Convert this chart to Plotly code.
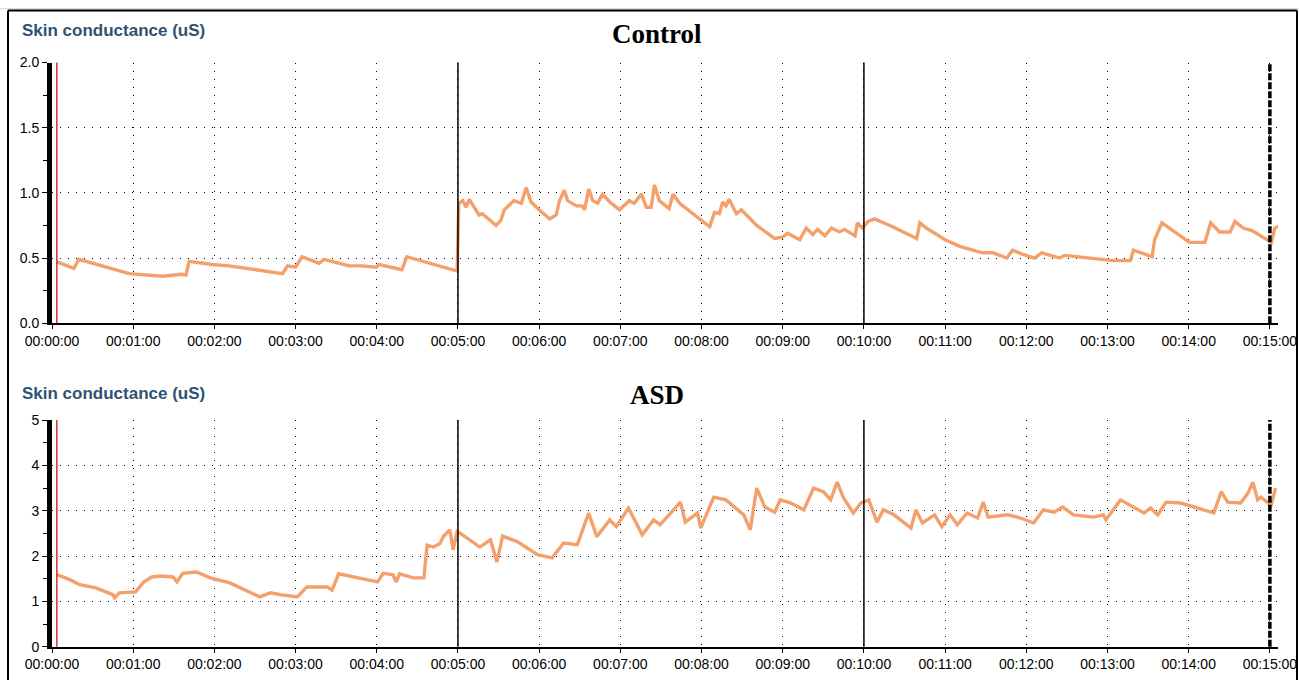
import plotly.graph_objects as go

# ---- data (minutes, microsiemens) ----
ctrl_t = [0.06, 0.27, 0.33, 0.95, 1.36, 1.60, 1.65, 1.69, 1.97, 2.18, 2.84, 2.90, 3.00, 3.08,
          3.29, 3.35, 3.66, 3.82, 3.99, 4.03, 4.31, 4.37, 4.99, 5.01, 5.06, 5.10, 5.14, 5.26,
          5.30, 5.47, 5.53, 5.57, 5.69, 5.78, 5.84, 5.90, 6.00, 6.13, 6.21, 6.25, 6.31, 6.35,
          6.46, 6.53, 6.56, 6.61, 6.66, 6.72, 6.78, 6.87, 6.99, 7.11, 7.17, 7.26, 7.32, 7.38,
          7.42, 7.48, 7.60, 7.65, 7.73, 8.10, 8.16, 8.22, 8.26, 8.30, 8.34, 8.43, 8.49, 8.68,
          8.90, 9.00, 9.06, 9.21, 9.29, 9.37, 9.43, 9.52, 9.60, 9.70, 9.76, 9.89, 9.92, 9.98,
          10.05, 10.13, 10.32, 10.62, 10.65, 10.69, 10.77, 11.00, 11.18, 11.46, 11.59, 11.76,
          11.83, 11.95, 12.10, 12.19, 12.41, 12.47, 12.82, 13.07, 13.28, 13.32, 13.55, 13.58,
          13.67, 14.01, 14.20, 14.27, 14.38, 14.51, 14.57, 14.67, 14.78, 15.02, 15.06, 15.12]
ctrl_v = [0.47, 0.42, 0.49, 0.38, 0.36, 0.375, 0.37, 0.475, 0.45, 0.44, 0.38, 0.44, 0.43, 0.51,
          0.46, 0.49, 0.44, 0.44, 0.43, 0.45, 0.41, 0.51, 0.40, 0.92, 0.94, 0.89, 0.95, 0.83,
          0.84, 0.75, 0.79, 0.87, 0.94, 0.92, 1.04, 0.93, 0.87, 0.80, 0.83, 0.94, 1.02, 0.94,
          0.90, 0.90, 0.87, 1.03, 0.94, 0.92, 0.99, 0.93, 0.87, 0.94, 0.92, 0.99, 0.89, 0.89,
          1.06, 0.94, 0.88, 0.99, 0.92, 0.74, 0.85, 0.84, 0.93, 0.90, 0.95, 0.84, 0.87, 0.75,
          0.65, 0.66, 0.69, 0.64, 0.73, 0.68, 0.72, 0.67, 0.73, 0.70, 0.72, 0.67, 0.77, 0.73,
          0.78, 0.80, 0.75, 0.66, 0.65, 0.77, 0.73, 0.64, 0.59, 0.54, 0.54, 0.50,
          0.56, 0.53, 0.50, 0.54, 0.50, 0.52, 0.50, 0.48, 0.48, 0.56, 0.51, 0.64,
          0.77, 0.62, 0.62, 0.77, 0.70, 0.70, 0.78, 0.73, 0.71, 0.62, 0.73, 0.75]

asd_t = [0.06, 0.22, 0.34, 0.54, 0.75, 0.77, 0.83, 1.03, 1.13, 1.23, 1.34, 1.49, 1.54, 1.61,
         1.78, 1.95, 2.19, 2.56, 2.69, 2.81, 3.02, 3.14, 3.39, 3.45, 3.53, 3.76, 4.01, 4.08,
         4.20, 4.24, 4.28, 4.45, 4.58, 4.62, 4.70, 4.78, 4.82, 4.90, 4.94, 4.99, 5.03, 5.27,
         5.40, 5.48, 5.55, 5.73, 5.98, 6.16, 6.30, 6.47, 6.61, 6.71, 6.87, 6.95, 7.10, 7.27,
         7.41, 7.49, 7.74, 7.80, 7.95, 7.99, 8.15, 8.30, 8.52, 8.60, 8.68, 8.78, 8.90, 8.97,
         9.10, 9.26, 9.38, 9.50, 9.59, 9.67, 9.75, 9.87, 9.96, 10.06, 10.16, 10.24, 10.37,
         10.58, 10.64, 10.72, 10.87, 10.96, 11.06, 11.15, 11.27, 11.40, 11.47, 11.53, 11.77,
         11.93, 12.09, 12.21, 12.34, 12.45, 12.58, 12.83, 12.95, 12.98, 13.16, 13.45, 13.53,
         13.62, 13.72, 13.90, 14.06, 14.31, 14.40, 14.48, 14.64, 14.73, 14.79, 14.85, 14.89,
         14.98, 15.01, 15.07]
asd_v = [1.59, 1.48, 1.37, 1.30, 1.15, 1.08, 1.19, 1.21, 1.43, 1.54, 1.56, 1.54, 1.43, 1.62,
         1.65, 1.52, 1.41, 1.10, 1.19, 1.15, 1.10, 1.32, 1.32, 1.25, 1.61, 1.52, 1.43, 1.62,
         1.59, 1.43, 1.61, 1.52, 1.52, 2.24, 2.20, 2.28, 2.43, 2.58, 2.14, 2.54, 2.50, 2.20,
         2.36, 1.87, 2.44, 2.32, 2.03, 1.96, 2.29, 2.25, 2.95, 2.43, 2.80, 2.65, 3.06, 2.47,
         2.80, 2.69, 3.19, 2.75, 2.95, 2.62, 3.30, 3.24, 2.91, 2.58, 3.50, 3.08, 2.97, 3.24,
         3.17, 3.02, 3.50, 3.42, 3.24, 3.63, 3.28, 2.95, 3.17, 3.24, 2.75, 3.02, 2.91,
         2.62, 3.02, 2.73, 2.91, 2.65, 2.91, 2.69, 2.95, 2.84, 3.19, 2.86, 2.91,
         2.84, 2.73, 3.02, 2.97, 3.08, 2.91, 2.86, 2.91, 2.80, 3.24, 2.95, 3.06,
         2.91, 3.19, 3.17, 3.08, 2.95, 3.42, 3.19, 3.17, 3.39, 3.63, 3.24, 3.30,
         3.17, 3.08, 3.50]

tick_minutes = list(range(0, 16))
tick_labels = ["00:%02d:00" % m for m in tick_minutes]
phase_marks = [5, 10]       # solid black separators
end_mark = 15               # dashed thick end marker
cursor_mark = 0.06          # red cursor line

titles = ["Control", "ASD"]
ylabel = "Skin conductance (uS)"

# ---- layout constants ----
W, H = 1299, 688
ML, MR = 52, 21
PW = W - ML - MR
def px_x(p):  # pixel -> paper x
    return (p - ML) / PW
def vy(p):    # target screenshot pixel -> page pixel (compensates capture offset/scale)
    return (p - 7.4) / 0.978
def px_y(p):  # target pixel -> paper y
    return 1 - vy(p) / H

LINE_COLOR = "#F3A06C"
FONT = "Liberation Sans"

fig = go.Figure()
fig.add_trace(go.Scatter(x=ctrl_t, y=ctrl_v, mode="lines", xaxis="x", yaxis="y",
                         line=dict(color=LINE_COLOR, width=3.4), showlegend=False))
fig.add_trace(go.Scatter(x=asd_t, y=asd_v, mode="lines", xaxis="x2", yaxis="y2",
                         line=dict(color=LINE_COLOR, width=3.4), showlegend=False))

xcommon = dict(range=[0, 15.1], tickmode="array", tickvals=tick_minutes, ticktext=tick_labels,
               showgrid=True, gridcolor="#000000", gridwidth=1, griddash="1px,7px",
               showline=True, linecolor="#000000", linewidth=1.5,
               ticks="outside", ticklen=4, tickcolor="#000000",
               tickfont=dict(family=FONT, size=14, color="#000000"), zeroline=False,
               fixedrange=True)
ycommon = dict(showgrid=True, gridcolor="#000000", gridwidth=1, griddash="1px,7px",
               showline=True, linecolor="#000000", linewidth=5,
               ticks="outside", ticklen=5, tickcolor="#000000",
               tickfont=dict(family=FONT, size=14, color="#000000"), zeroline=False,
               fixedrange=True)

fig.update_layout(
    width=W, height=H, margin=dict(l=ML, r=MR, t=0, b=0),
    paper_bgcolor="white", plot_bgcolor="white",
    xaxis=dict(xcommon, domain=[0, 1], anchor="y"),
    yaxis=dict(ycommon, domain=[px_y(323), px_y(62)], anchor="x", range=[0, 2.0],
               tickvals=[0, 0.5, 1.0, 1.5, 2.0], ticktext=["0.0", "0.5", "1.0", "1.5", "2.0"],
               minor=dict(dtick=0.25, ticks="outside", ticklen=4, tickcolor="#000000",
                          showgrid=False)),
    xaxis2=dict(xcommon, domain=[0, 1], anchor="y2"),
    yaxis2=dict(ycommon, domain=[px_y(647), px_y(420)], anchor="x2", range=[0, 5],
                tickvals=[0, 1, 2, 3, 4, 5],
                minor=dict(dtick=0.5, ticks="outside", ticklen=4, tickcolor="#000000",
                           showgrid=False)),
)

shapes = []
for xa, ya in (("x", "y"), ("x2", "y2")):
    for m in phase_marks:
        shapes.append(dict(type="line", xref=xa, yref=ya + " domain", x0=m, x1=m, y0=0, y1=1,
                           line=dict(color="#000000", width=1.5)))
    shapes.append(dict(type="line", xref=xa, yref=ya + " domain", x0=end_mark, x1=end_mark,
                       y0=0, y1=1, line=dict(color="#000000", width=3.5, dash="7px,2px")))
    shapes.append(dict(type="line", xref=xa, yref=ya + " domain", x0=cursor_mark, x1=cursor_mark,
                       y0=0, y1=1, line=dict(color="#C00000", width=1.2)))

# window frame
shapes.append(dict(type="rect", xref="paper", yref="paper", x0=px_x(0), x1=px_x(W),
                   y0=1 - 1.5 / H, y1=1.0, fillcolor="#DCDCDC", line=dict(width=0), layer="above"))
shapes.append(dict(type="line", xref="paper", yref="paper", x0=px_x(8), x1=px_x(1297),
                   y0=px_y(10), y1=px_y(10), line=dict(color="#000000", width=2)))
shapes.append(dict(type="line", xref="paper", yref="paper", x0=px_x(8), x1=px_x(8),
                   y0=px_y(10), y1=0, line=dict(color="#000000", width=2)))
shapes.append(dict(type="line", xref="paper", yref="paper", x0=px_x(1297), x1=px_x(1297),
                   y0=px_y(10), y1=0, line=dict(color="#000000", width=2)))
fig.update_layout(shapes=shapes)

ann = []
for title, ty, ly in ((titles[0], 33, 30), (titles[1], 395, 393)):
    ann.append(dict(text="<b>%s</b>" % title, xref="paper", yref="paper", x=px_x(657), y=px_y(ty),
                    xanchor="center", yanchor="middle", showarrow=False,
                    font=dict(family="Liberation Serif", size=27, color="#000000")))
    ann.append(dict(text="<b>%s</b>" % ylabel, xref="paper", yref="paper", x=px_x(20), y=px_y(ly),
                    xanchor="left", yanchor="middle", showarrow=False,
                    font=dict(family=FONT, size=17, color="#2F5272")))
fig.update_layout(annotations=ann)

fig.write_html("out.html", config={"displayModeBar": False},
               post_script="document.body.style.margin='0';document.body.style.overflow='hidden';"
                           "document.body.style.background='#DCDCDC';"
                           "document.documentElement.style.background='#DCDCDC';")
